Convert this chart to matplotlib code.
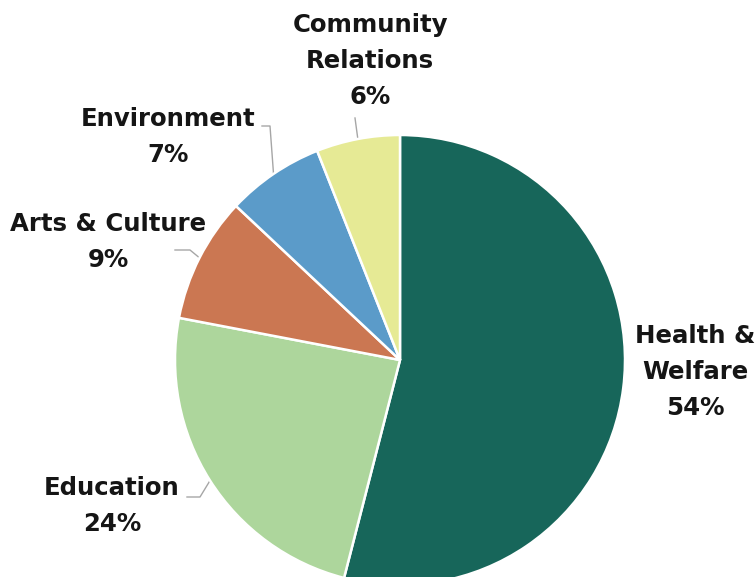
import matplotlib
matplotlib.use("Agg")
import matplotlib.pyplot as plt
import numpy as np

# data
categories = ["Health &\nWelfare", "Education", "Arts & Culture", "Environment", "Community\nRelations"]
shares = [54, 24, 9, 7, 6]
colors = ["#17665A", "#ADD69C", "#CB7752", "#5B9BC9", "#E6EA95"]

W, H = 755, 577
CX, CY, R = 400, 360, 225  # pie centre / radius in pixels


def px(x, y):
    """pixel (from top-left) -> data coords with pie radius 1"""
    return (x - CX) / R, (CY - y) / R


fig = plt.figure(figsize=(W / 100, H / 100), dpi=100)
ax = fig.add_axes([0, 0, 1, 1])

wedges, _ = ax.pie(shares, colors=colors, startangle=90, counterclock=False,
                   radius=1.0, wedgeprops=dict(edgecolor="white", linewidth=1.8))

# pie() resets the limits, so set them afterwards
ax.set_xlim(px(0, 0)[0], px(W, 0)[0])
ax.set_ylim(px(0, H)[1], px(0, 0)[1])
ax.set_aspect("equal")
ax.axis("off")

# label placement (pixels): text centre, elbow points of leader line (None = no leader)
label_pos = [(695, 372), (112, 506), (108, 242), (168, 137), (370, 61)]
leader_pts = [None,
              [(187, 497), (200, 497)],
              [(175, 250), (190, 250)],
              [(262, 126), (270, 126)],
              [(355, 118)]]

font = dict(family=["DejaVu Sans"], fontweight="bold", fontsize=17.6, color="#151515")

for w, cat, val, pos, pts in zip(wedges, categories, shares, label_pos, leader_pts):
    tx, ty = px(*pos)
    ax.text(tx, ty, f"{cat}\n{val}%", ha="center", va="center", linespacing=1.62, **font)
    if pts is None:
        continue
    mid = np.deg2rad((w.theta1 + w.theta2) / 2)
    xs = [px(*p)[0] for p in pts] + [np.cos(mid)]
    ys = [px(*p)[1] for p in pts] + [np.sin(mid)]
    ax.plot(xs, ys, color="#A6A6A6", linewidth=1.0, zorder=0)

fig.savefig("out.png", dpi=100)
